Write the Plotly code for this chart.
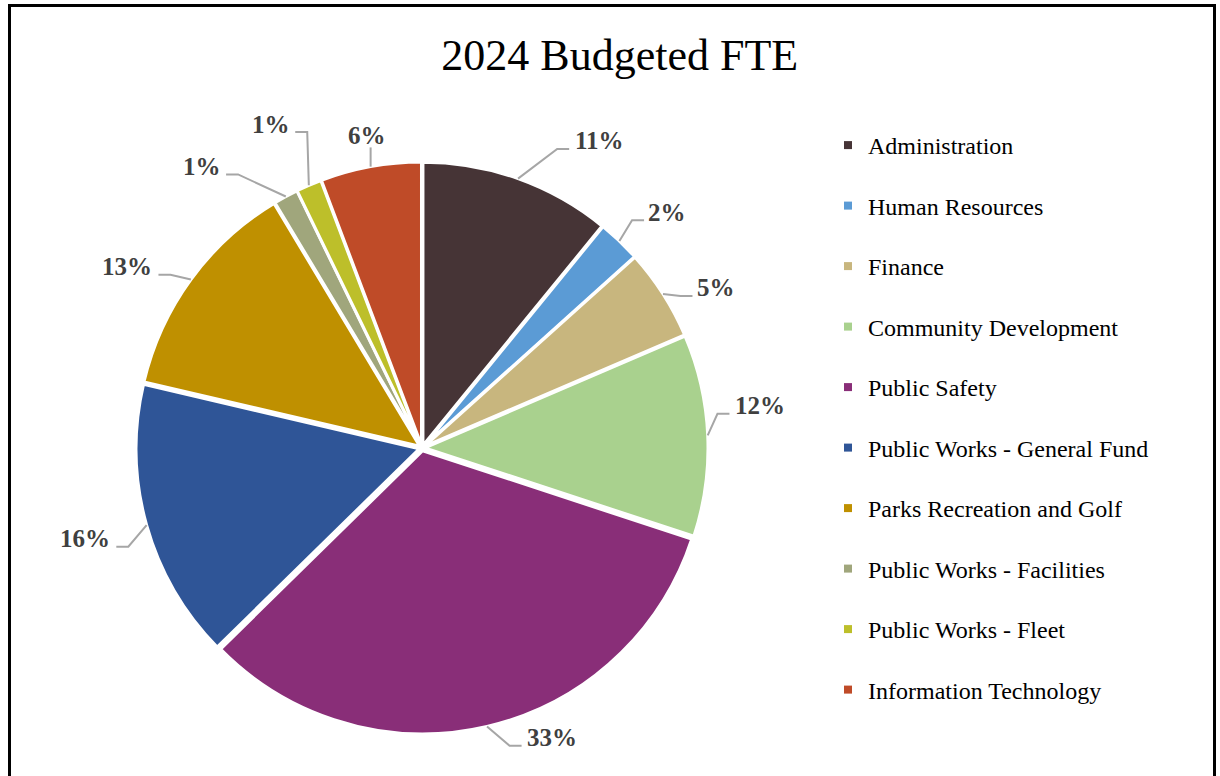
"""2024 Budgeted FTE pie chart."""

import math

import plotly.graph_objects as go

DEPARTMENTS = [
    "Administration",
    "Human Resources",
    "Finance",
    "Community Development",
    "Public Safety",
    "Public Works - General Fund",
    "Parks Recreation and Golf",
    "Public Works - Facilities",
    "Public Works - Fleet",
    "Information Technology",
]
FTE_SHARE = [10.9, 2.45, 5.2, 11.5, 32.6, 16.0, 12.75, 1.4, 1.45, 5.75]
COLORS = [
    "#463436",
    "#5B9BD5",
    "#C8B67E",
    "#A9D18E",
    "#892E78",
    "#2F5597",
    "#BF9000",
    "#A0A67C",
    "#BDBF2A",
    "#BF4B28",
]
# (radius factor, angle offset in degrees) used to place each outside label
LABEL_NUDGE = [
    (1.24, 10.4), (1.19, 2.5), (1.17, 4.0), (1.19, -4.6), (1.11, -11.0),
    (1.22, 0.6), (1.21, -4.5), (1.25, -9.6), (1.25, -1.7), (1.11, 0.3),
]

W, H = 1220, 776
CX, CY, R = 422, 448, 286
PULL = 0.01
SERIF = "Liberation Serif, Times New Roman, serif"
LABEL_SIZE = 25


def px(x, y):
    return x / W, 1 - y / H


total = sum(FTE_SHARE)
fig = go.Figure()
fig.add_trace(
    go.Pie(
        labels=DEPARTMENTS,
        values=FTE_SHARE,
        sort=False,
        direction="clockwise",
        rotation=0,
        marker=dict(colors=COLORS, line=dict(color="white", width=3)),
        pull=[PULL] * len(FTE_SHARE),
        textinfo="none",
        hoverinfo="label+percent",
        showlegend=False,
        domain=dict(x=[(CX - R) / W, (CX + R) / W], y=[1 - (CY + R) / H, 1 - (CY - R) / H]),
    )
)

# legend entries (one group each so the row spacing can be set)
for name, color in zip(DEPARTMENTS, COLORS):
    fig.add_trace(
        go.Scatter(
            x=[None], y=[None], mode="markers", name=name, legendgroup=name,
            marker=dict(symbol="square", size=8, color=color),
        )
    )

# outside percentage labels with leader lines
annotations = []
shapes = []
cum = 0.0
for val, (kr, dang) in zip(FTE_SHARE, LABEL_NUDGE):
    mid = (cum + val / 2) / total * 360
    cum += val
    pct = int(val / total * 100 + 0.5)
    text = f"{pct}%"
    a = math.radians(mid)
    ex, ey = CX + R * math.sin(a), CY - R * math.cos(a)
    b = math.radians(mid + dang)
    lx, ly = CX + kr * R * math.sin(b), CY - kr * R * math.cos(b)
    half_w = (len(text) - 1) * LABEL_SIZE * 0.55 / 2 + LABEL_SIZE / 2
    bottom = ly + 8
    if abs(ex - lx) < half_w + 10:
        pts = [(ex, ey), (ex, bottom + 4)]
    elif ex > lx:
        end = lx + half_w + 5
        pts = [(ex, ey), (end + 12, bottom), (end, bottom)]
    else:
        end = lx - half_w - 4
        pts = [(ex, ey), (end - 12, bottom), (end, bottom)]
    path = "M " + " L ".join("{},{}".format(*px(x, y)) for x, y in pts)
    shapes.append(
        dict(
            type="path", xref="paper", yref="paper", path=path,
            line=dict(color="#A6A6A6", width=2),
        )
    )
    ax, ay = px(lx, ly)
    annotations.append(
        dict(
            x=ax, y=ay, xref="paper", yref="paper", text=f"<b>{text}</b>",
            showarrow=False, xanchor="center", yanchor="middle",
            font=dict(family=SERIF, size=LABEL_SIZE, color="#404040"),
        )
    )

# chart frame
shapes.append(
    dict(
        type="rect", xref="paper", yref="paper",
        x0=9.5 / W, x1=1214.5 / W, y0=-0.05, y1=1 - 5.5 / H,
        line=dict(color="black", width=3),
    )
)

fig.update_layout(
    width=W,
    height=H,
    margin=dict(l=0, r=0, t=0, b=0),
    paper_bgcolor="white",
    plot_bgcolor="white",
    title=dict(
        text="2024 Budgeted FTE",
        x=0.508, xanchor="center", xref="paper",
        y=1 - 55 / H, yanchor="middle", yref="container",
        font=dict(family=SERIF, size=44, color="black"),
    ),
    xaxis=dict(visible=False),
    yaxis=dict(visible=False),
    legend=dict(
        x=828 / W, xanchor="left", y=1 - 123 / H, yanchor="top",
        font=dict(family=SERIF, size=24, color="black"),
        tracegroupgap=26.3, traceorder="grouped",
        bgcolor="rgba(0,0,0,0)",
    ),
    annotations=annotations,
    shapes=shapes,
)

fig.write_html(
    "out.html",
    config={"displayModeBar": False},
    post_script="document.body.style.margin='0';document.body.style.overflow='hidden';",
)
